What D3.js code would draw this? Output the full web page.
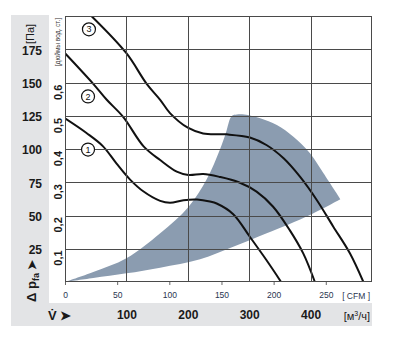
<!DOCTYPE html>
<html><head><meta charset="utf-8">
<script src="https://cdn.jsdelivr.net/npm/d3@7/dist/d3.min.js"></script>
<style>body{margin:0;background:#fff}svg{display:block}text{font-family:"Liberation Sans",Arial,sans-serif}</style>
</head><body><svg id="c" width="395" height="358"></svg>
<script>
// ---- data (flow in m³/h, pressure in Pa) ----
const pressureTicks = [25, 50, 75, 100, 125, 150, 175];
const flowTicks = [100, 200, 300, 400];
const cfmTicks = [0, 50, 100, 150, 200, 250];
const inchTicks = [0.1, 0.2, 0.3, 0.4, 0.5, 0.6];
const curve1 = [[0,123],[35,112],[62,102],[84,89],[106,77],[128,68],[155,61],[171,59.6],[193,61.5],[215,62],[236,60.5],[247,59],[274,51],[301,34],[328,16.5],[352,0]];
const curve2 = [[0,172],[46,149],[68,137],[95,124],[128,102],[155,91.7],[182,83],[201,80.5],[225,81.2],[252,79],[283,75],[312,68],[339,56.6],[366,39],[388,21.5],[407,0]];
const curve3 = [[43,200],[100,172],[133,149],[155,137],[171,127],[200,116],[225,111.7],[263,111],[301,108.6],[328,103],[356,93],[383,79],[410,61.7],[437,41.6],[464,21.6],[486,0]];
const curveNames = ["1", "2", "3"];
const labelPos = [[37.5,99.6],[37.5,139.5],[39,190]];
const regionUpper = [[0,0],[46,7.5],[100,17.8],[155,36.6],[201,56.4],[231,77.4],[252,99.2],[262,112],[271.5,124.8],[280,126],[292,126],[318,123.1],[345,118],[372,109.2],[399,96.8],[421,81.7],[448.5,62.2]];
const regionLower = [[448.5,62.2],[399,50.4],[328.5,36.6],[274,26.5],[220,17.1],[155,10.8],[100,6.5],[46,3],[0,0]];
const CFM = 1.699, INCH = 249.09;

const svg = d3.select("#c");
const x = d3.scaleLinear([0, 500], [65, 372]);
const y = d3.scaleLinear([0, 200], [282, 16]);

// gray L-shaped panel
svg.append("path").attr("fill", "#e3e4e6")
  .attr("d", "M11,15H49V303H372V326H11Z");

svg.append("clipPath").attr("id", "pc").append("rect")
  .attr("x", 65).attr("y", 16).attr("width", 307).attr("height", 266);

const plot = svg.append("g").attr("clip-path", "url(#pc)");
const smooth = d3.line().x(d => x(d[0])).y(d => y(d[1])).curve(d3.curveCatmullRom.alpha(0.5));
plot.append("path")
  .attr("fill", "#8b9cb0")
  .attr("d", smooth(regionUpper) + smooth(regionLower).replace(/^M/, "L") + "Z");

// grid
const grid = svg.append("g").attr("stroke", "#4a4a4a").attr("stroke-width", 1).attr("shape-rendering", "crispEdges");
pressureTicks.forEach(p => grid.append("line").attr("x1", 65).attr("x2", 372).attr("y1", Math.round(y(p)) + 0.5).attr("y2", Math.round(y(p)) + 0.5));
flowTicks.forEach(f => grid.append("line").attr("y1", 16).attr("y2", 282).attr("x1", Math.round(x(f)) + 0.5).attr("x2", Math.round(x(f)) + 0.5));
grid.append("rect").attr("x", 65.5).attr("y", 16.5).attr("width", 306).attr("height", 265).attr("fill", "none");

// curves
[curve1, curve2, curve3].forEach(c => plot.append("path").datum(c)
  .attr("fill", "none").attr("stroke", "#111").attr("stroke-width", 2).attr("d", smooth));

// curve number circles
labelPos.forEach((p, i) => {
  const g = svg.append("g").attr("transform", `translate(${x(p[0])},${y(p[1])})`);
  g.append("circle").attr("r", 6.5).attr("fill", "#fff").attr("stroke", "#111").attr("stroke-width", 1.2);
  g.append("text").attr("text-anchor", "middle").attr("dy", "0.35em").attr("font-size", 9).attr("fill", "#111").text(curveNames[i]);
});

// Pa axis
const pa = svg.append("g").attr("transform", "translate(42,0)")
  .call(d3.axisLeft(y).tickValues(pressureTicks).tickSize(0).tickPadding(0));
pa.select(".domain").remove();
pa.selectAll("text").attr("font-size", 12).attr("font-weight", "bold").attr("fill", "#1a1a1a")
  .attr("font-family", "Liberation Sans, Arial, sans-serif").attr("dy", "0.4em");

// inch axis (rotated labels)
const yi = d3.scaleLinear([0, 200 / INCH], [282, 16]);
const inch = svg.append("g").attr("transform", "translate(62,0)")
  .call(d3.axisLeft(yi).tickValues(inchTicks).tickSize(0).tickFormat(d => d3.format(".1f")(d).replace(".", ",")));
inch.select(".domain").remove();
inch.selectAll(".tick").each(function () {
  const t = d3.select(this);
  t.select("text").attr("x", 0).attr("dy", 0).attr("transform", "rotate(-90) translate(-1,0)")
    .attr("text-anchor", "end").attr("font-size", 11).attr("font-weight", "bold")
    .attr("font-family", "Liberation Sans Narrow, Liberation Sans, sans-serif").attr("fill", "#1a1a1a");
});

// CFM axis
const xc = d3.scaleLinear([0, 500 / CFM], [65, 372]);
const cfm = svg.append("g").attr("transform", "translate(0,282)")
  .call(d3.axisBottom(xc).tickValues(cfmTicks).tickSize(3).tickPadding(7));
cfm.select(".domain").remove();
cfm.selectAll("line").attr("stroke", "#666");
cfm.selectAll("text").attr("font-size", 8.5).attr("fill", "#2a3550").attr("font-family", "Liberation Sans, Arial, sans-serif");
svg.append("text").attr("x", 370).attr("y", 299).attr("text-anchor", "end").attr("font-size", 8.5)
  .attr("fill", "#2a3550").attr("xml:space", "preserve").text("[ CFM ]");

// m³/h axis
const fl = svg.append("g").attr("transform", "translate(0,303)")
  .call(d3.axisBottom(x).tickValues(flowTicks).tickSize(0).tickPadding(7));
fl.select(".domain").remove();
fl.selectAll("text").attr("font-size", 12).attr("font-weight", "bold").attr("fill", "#1a1a1a")
  .attr("font-family", "Liberation Sans, Arial, sans-serif");
svg.append("text").attr("x", 370).attr("y", 319.5).attr("text-anchor", "end").attr("font-size", 11)
  .attr("fill", "#1a1a1a").html('[м<tspan font-size="7" dy="-4">3</tspan><tspan dy="4">/ч]</tspan>');

// axis titles
svg.append("text").attr("transform", "translate(34,34) rotate(-90)").attr("text-anchor", "middle")
  .attr("font-size", 11).attr("fill", "#1a1a1a").text("[Па]");
svg.append("text").attr("transform", "translate(59.5,42) rotate(-90)").attr("text-anchor", "middle")
  .attr("font-size", 6.5).attr("fill", "#333").text("[дюймы вод. ст.]");
svg.append("text").attr("transform", "translate(36,302) rotate(-90)").attr("text-anchor", "start")
  .attr("font-size", 13).attr("font-weight", "bold").attr("fill", "#1a1a1a")
  .html('Δ p<tspan font-size="9" dy="3">fa</tspan><tspan dy="-3" font-size="12"> ➤</tspan>');
svg.append("text").attr("x", 48).attr("y", 320).attr("font-size", 13).attr("font-weight", "bold")
  .attr("fill", "#1a1a1a").text("V\u0307 ➤");
</script></body></html>
